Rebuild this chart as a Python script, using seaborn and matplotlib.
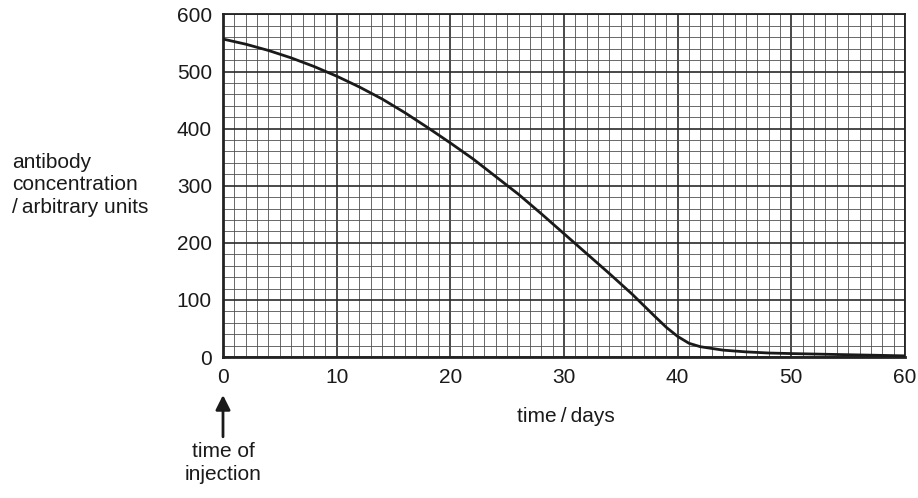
import numpy as np
import pandas as pd
import seaborn as sns
import matplotlib.pyplot as plt
from matplotlib.ticker import MultipleLocator

# values
days = [0, 2, 4, 6, 8, 10, 12, 14, 16, 18, 20, 22, 24, 26, 28, 30, 32, 34,
        36, 38, 39, 40, 41, 42, 44, 46, 48, 50, 55, 60]
antibody = [557, 548, 537, 524, 509, 492, 473, 452, 428, 402, 375, 347, 316,
            285, 251, 216, 181, 146, 110, 71, 52, 36, 24, 18, 12, 9, 7, 6, 4, 2]

x_ticks = list(range(0, 61, 10))
y_ticks = list(range(0, 601, 100))


def main():
    data = pd.DataFrame({'time': days, 'conc': antibody})

    sns.set_style('white')
    plt.rcParams['font.family'] = ['Liberation Sans', 'DejaVu Sans']

    fig = plt.figure(figsize=(9.18, 4.98), dpi=100)
    ax = fig.add_axes([223 / 918, 1 - 357 / 498, 682 / 918, 342.5 / 498])

    # graph paper grid: 1 day x 20 units squares
    ax.xaxis.set_minor_locator(MultipleLocator(1))
    ax.yaxis.set_minor_locator(MultipleLocator(20))
    ax.grid(which='minor', color='#505050', linewidth=0.6)
    ax.grid(which='major', color='#2a2a2a', linewidth=1.2)
    ax.set_axisbelow(True)

    ax.set_xlim(0, 60)
    ax.set_ylim(0, 600)
    ax.set_xticks(x_ticks)
    ax.set_yticks(y_ticks)

    # scanned paper look: some minor lines lighter, day 5 lines darker
    for t in ax.xaxis.get_minor_ticks():
        v = round(t.get_loc())
        if v % 5 == 2:
            t.gridline.set_color('#b5b5b5')
            t.gridline.set_linewidth(1.0)
        elif v % 10 == 5:
            t.gridline.set_color('#3a3a3a')
            t.gridline.set_linewidth(1.0)
    for t in ax.yaxis.get_minor_ticks():
        v = round(t.get_loc())
        if v % 100 == 40:
            t.gridline.set_color('#b5b5b5')
            t.gridline.set_linewidth(1.0)

    sns.lineplot(data=data, x='time', y='conc', ax=ax, color='#1a1a1a',
                 linewidth=2.0, zorder=3)

    ax.tick_params(which='major', direction='out', length=5, width=1.2,
                   labelsize=15, color='#222222', pad=3, labelcolor='#1a1a1a')
    ax.tick_params(which='minor', length=0)
    ax.set_xlabel('')
    ax.set_ylabel('')
    for s in ax.spines.values():
        s.set_color('#222222')
        s.set_linewidth(1.3)
    ax.spines['left'].set_linewidth(2)
    ax.spines['bottom'].set_linewidth(2)

    fig.text(12 / 918, 1 - 185 / 498,
             'antibody\nconcentration\n/\u2009arbitrary units',
             ha='left', va='center', fontsize=15, linespacing=1.25,
             color='#1a1a1a')
    fig.text(566 / 918, 1 - 416 / 498, 'time\u2009/\u2009days', ha='center',
             va='center', fontsize=15, color='#1a1a1a')

    # arrow marking time of injection
    ax.annotate('', xy=(0, -0.111), xytext=(0, -0.233),
                xycoords=('data', 'axes fraction'),
                textcoords=('data', 'axes fraction'),
                arrowprops=dict(arrowstyle='-|>', color='#1a1a1a', lw=2,
                                mutation_scale=22, shrinkA=0, shrinkB=0),
                annotation_clip=False)
    ax.text(0, -0.309, 'time of\ninjection', transform=ax.get_xaxis_transform(),
            ha='center', va='center', fontsize=15, linespacing=1.25,
            clip_on=False, color='#1a1a1a')

    fig.savefig('out.png', dpi=100)


if __name__ == '__main__':
    main()
